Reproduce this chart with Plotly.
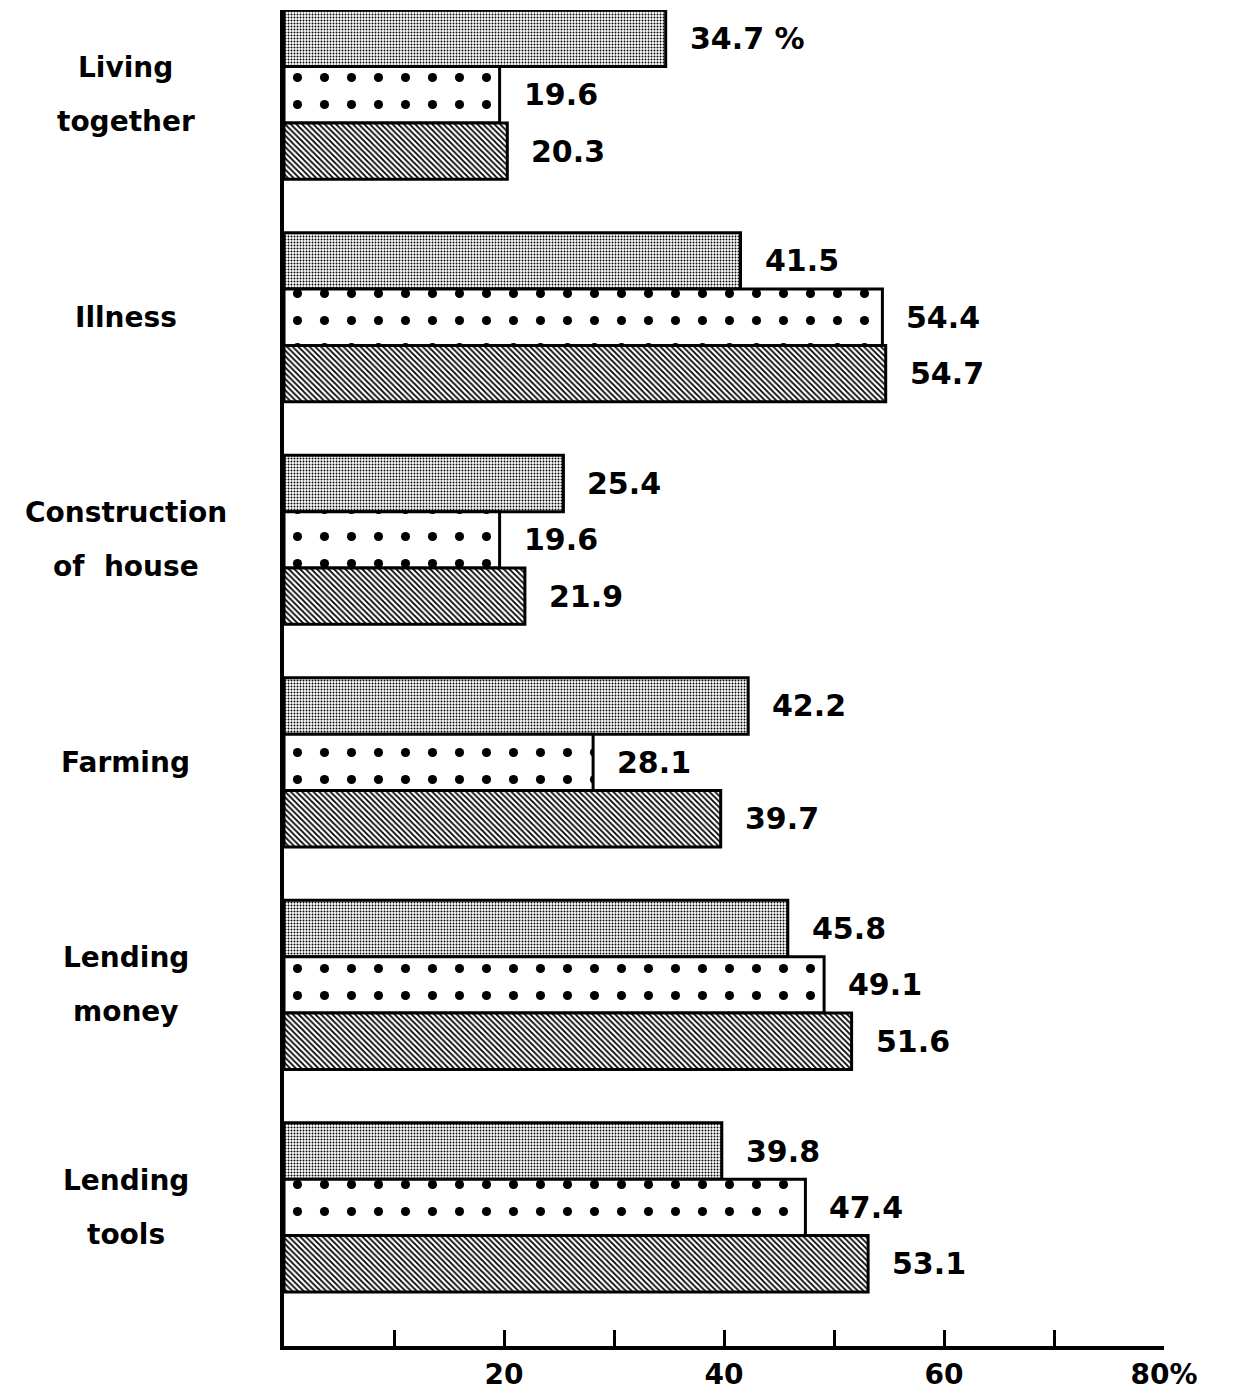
import plotly.graph_objects as go

categories = ["Living together", "Illness", "Construction of house", "Farming", "Lending money", "Lending tools"]
cat_lines = [["Living", "together"], ["Illness"], ["Construction", "of  house"], ["Farming"], ["Lending", "money"], ["Lending", "tools"]]
series_a = [34.7, 41.5, 25.4, 42.2, 45.8, 39.8]
series_b = [19.6, 54.4, 19.6, 28.1, 49.1, 47.4]
series_c = [20.3, 54.7, 21.9, 39.7, 51.6, 53.1]
tick_vals = [10, 20, 30, 40, 50, 60, 70, 80]
tick_text = ["", "20", "", "40", "", "60", "", "80%"]

FONT = "DejaVu Sans"
patterns = [
    dict(shape=".", size=3, solidity=0.32, fgcolor="black", bgcolor="white", fgopacity=1),
    dict(shape=".", size=27, solidity=0.09, fgcolor="black", bgcolor="white", fgopacity=1),
    dict(shape="\\", size=4, solidity=0.45, fgcolor="black", bgcolor="white", fgopacity=1),
]

fig = go.Figure()
for vals, pat in zip([series_a, series_b, series_c], patterns):
    fig.add_trace(go.Bar(
        y=categories, x=vals, orientation="h",
        marker=dict(color="white", pattern=pat, line=dict(color="black", width=3)),
        showlegend=False, hoverinfo="skip",
    ))

bargap = 0.24
w = (1 - bargap) / 3
annotations = []
for k, vals in enumerate([series_a, series_b, series_c]):
    for i, v in enumerate(vals):
        txt = f"{v:.1f}"
        if i == 0 and k == 0:
            txt += " %"
        annotations.append(dict(
            x=v, y=i + (k - 1) * w, xref="x", yref="y", text=txt,
            showarrow=False, xanchor="left", yanchor="middle", xshift=22,
            font=dict(family=FONT, size=30, color="black", weight="bold"),
        ))

for i, lines in enumerate(cat_lines):
    n = len(lines)
    for j, ln in enumerate(lines):
        shift = 0 if n == 1 else (27 if j == 0 else -27)
        annotations.append(dict(
            x=-0.18, y=i, xref="paper", yref="y", text=ln,
            showarrow=False, xanchor="center", yanchor="middle", yshift=shift,
            font=dict(family=FONT, size=28, color="black", weight="bold"),
        ))

fig.update_layout(
    width=1236, height=1385,
    margin=dict(l=276, r=80, t=2, b=43),
    paper_bgcolor="white", plot_bgcolor="white",
    barmode="group", bargap=bargap, bargroupgap=0.0,
    annotations=annotations,
    xaxis=dict(
        range=[0, 80], tickvals=tick_vals, ticktext=tick_text,
        ticks="inside", ticklen=16, tickwidth=3, tickcolor="black",
        showline=True, linewidth=4, linecolor="black", showgrid=False, zeroline=False,
        tickfont=dict(family=FONT, size=28, color="black", weight="bold"),
    ),
    yaxis=dict(
        range=[5.623, -0.381], showticklabels=False, ticks="",
        showline=True, linewidth=4, linecolor="black", showgrid=False, zeroline=False,
    ),
)

fig.write_html("out.html")
